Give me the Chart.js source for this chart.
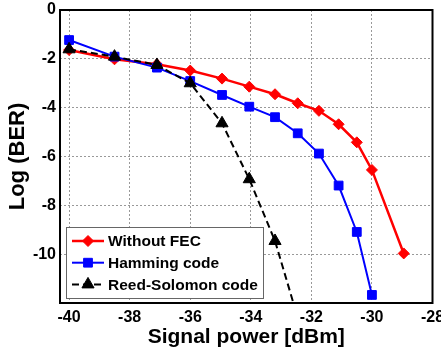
<!DOCTYPE html>
<html><head><meta charset="utf-8">
<script src="https://cdn.jsdelivr.net/npm/chart.js@4/dist/chart.umd.min.js"></script>
<style>html,body{margin:0;padding:0;background:#fff;overflow:hidden}#wrap{position:relative;width:441px;height:354px}</style>
</head><body><div id="wrap"><canvas id="c"></canvas></div>
<script>
const signalPower = [-40, -38.5, -37.1, -36, -34.95, -34.05, -33.2, -32.45, -31.75, -31.1, -30.5, -30, -28.95];
const berWithoutFEC = [-1.64, -2.02, -2.22, -2.48, -2.81, -3.14, -3.45, -3.82, -4.13, -4.68, -5.42, -6.55, -9.97];
const berHamming = [-1.23, -1.91, -2.36, -2.91, -3.48, -3.96, -4.39, -5.05, -5.88, -7.19, -9.09, -11.67];
const berReedSolomon = [-1.61, -1.91, -2.25, -3.0, -4.64, -6.93, -9.46, -12.6];
const seriesNames = ['Without FEC', 'Hamming code', 'Reed-Solomon code'];
const xTicks = [-40, -38, -36, -34, -32, -30, -28];
const yTicks = [0, -2, -4, -6, -8, -10];

const FONT = '"Liberation Sans", Arial, Helvetica, sans-serif';
const pts = (ys) => ys.map((y, i) => ({x: signalPower[i], y: y}));

const datasets = [
  {label: seriesNames[0], data: pts(berWithoutFEC), borderColor: '#ff0000', backgroundColor: '#ff0000',
   borderWidth: 2.5, pointStyle: 'rectRot', pointRadius: 5.5, pointBorderWidth: 1, order: 2},
  {label: seriesNames[1], data: pts(berHamming), borderColor: '#0000ff', backgroundColor: '#0000ff',
   borderWidth: 2, pointStyle: 'rect', pointRadius: 6.2, pointBorderWidth: 1, order: 1},
  {label: seriesNames[2], data: pts(berReedSolomon), borderColor: '#000000', backgroundColor: '#000000',
   borderWidth: 2, borderDash: [7, 4], pointStyle: 'triangle', pointRadius: 7, pointBorderWidth: 1, order: 0}
];

const boxPlugin = {
  id: 'boxPlugin',
  afterDatasetsDraw(chart) {
    const {ctx, chartArea: a} = chart;
    ctx.save();
    ctx.strokeStyle = '#000';
    ctx.lineWidth = 2;
    ctx.setLineDash([]);
    ctx.strokeRect(a.left, a.top, a.right - a.left, a.bottom - a.top);
    ctx.restore();
  }
};

const legendPlugin = {
  id: 'insideLegend',
  afterDraw(chart) {
    const {ctx, chartArea: a} = chart;
    const x0 = a.left + 6, y0 = a.bottom - 76, w = 197, h = 71;
    ctx.save();
    ctx.fillStyle = '#fff';
    ctx.fillRect(x0, y0, w, h);
    ctx.strokeStyle = '#666';
    ctx.lineWidth = 1;
    ctx.strokeRect(x0 + 0.5, y0 + 0.5, w, h);
    chart.data.datasets.forEach((ds, i) => {
      const ry = y0 + 14 + i * 21.7;
      ctx.strokeStyle = ds.borderColor;
      ctx.lineWidth = ds.borderWidth;
      ctx.setLineDash(ds.borderDash || []);
      ctx.beginPath();
      ctx.moveTo(x0 + 6, ry);
      ctx.lineTo(x0 + 38, ry);
      ctx.stroke();
      ctx.setLineDash([]);
      ctx.fillStyle = ds.backgroundColor;
      ctx.strokeStyle = ds.borderColor;
      ctx.lineWidth = 1;
      Chart.helpers.drawPoint(ctx, {pointStyle: ds.pointStyle, radius: ds.pointRadius, borderWidth: 1, rotation: 0}, x0 + 22, ry);
      ctx.fillStyle = '#000';
      ctx.font = 'bold 15.5px ' + FONT;
      ctx.textBaseline = 'middle';
      ctx.textAlign = 'left';
      ctx.fillText(ds.label, x0 + 42, ry + 1);
    });
    ctx.restore();
  }
};

new Chart(document.getElementById('c'), {
  type: 'line',
  data: {datasets},
  options: {
    responsive: true,
    maintainAspectRatio: false,
    animation: false,
    layout: {padding: {left: 0, top: 10, right: 8.5, bottom: 0}},
    plugins: {legend: {display: false}, tooltip: {enabled: false}},
    scales: {
      x: {
        type: 'linear', min: -40.3, max: -28,
        afterBuildTicks: s => { s.ticks = xTicks.map(v => ({value: v})); },
        afterFit: s => { s.height = 51; s.paddingLeft = 0; s.paddingRight = 0; },
        grid: {color: '#999', borderDash: [2, 2], drawTicks: false, lineWidth: 1},
        border: {display: false, dash: [2, 2]},
        ticks: {color: '#000', font: {family: FONT, size: 16, weight: 'bold'}, padding: 5, maxRotation: 0, autoSkip: false},
        title: {display: true, text: 'Signal power [dBm]', color: '#000', font: {family: FONT, size: 21, weight: 'bold'}, padding: {top: 0, bottom: 4}}
      },
      y: {
        type: 'linear', min: -12, max: 0,
        afterBuildTicks: s => { s.ticks = yTicks.map(v => ({value: v})); },
        afterFit: s => { s.width = 60; s.paddingTop = 0; s.paddingBottom = 0; },
        grid: {color: '#999', drawTicks: false, lineWidth: 1},
        border: {display: false, dash: [2, 2]},
        ticks: {color: '#000', font: {family: FONT, size: 16, weight: 'bold'}, padding: 4, autoSkip: false},
        title: {display: true, text: 'Log (BER)', color: '#000', font: {family: FONT, size: 22, weight: 'bold'}, padding: {top: 5, bottom: 0}}
      }
    }
  },
  plugins: [boxPlugin, legendPlugin]
});
</script></body></html>
